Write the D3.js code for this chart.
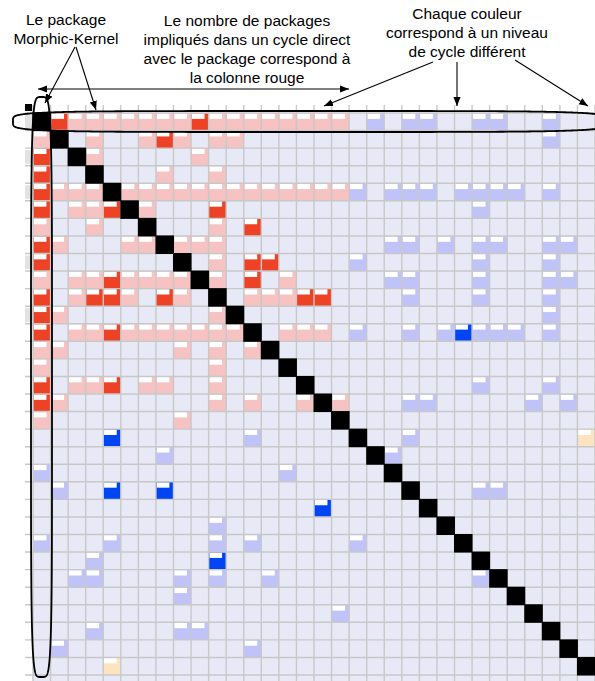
<!DOCTYPE html>
<html>
<head>
<meta charset="utf-8">
<script src="https://cdn.jsdelivr.net/npm/d3@7"></script>
<style>
  body { margin: 0; background: #fff; }
  text { font-family: "Liberation Sans", Arial, sans-serif; font-size: 15.5px; fill: #000; }
</style>
</head>
<body>
<svg id="dsm" width="595" height="681"></svg>
<script>
// matrix of 32 packages, Morphic-Kernel is package 0
var packageIndex = d3.range(32)

// each entry: [row, [columns]]
var strongRed = [[0,[1,9]],[1,[7]],[2,[0]],[3,[0]],[4,[0]],[5,[0,4,10]],[6,[12]],[7,[0]],
  [8,[0,12,13]],[9,[4,12]],[10,[0,3,4,7,15,16]],[11,[0]],[12,[0,4]],[15,[0,4]],[16,[0]]]

var lightRed = [[0,[2,3,4,5,6,7,8,10,11,12,13,14,15,16,17]],[1,[0,3,6,8,10,11]],[2,[3,9]],[3,[7,10]],
  [4,[1,2,3,5,6,7,8,9,10,11,12,13,14,15,16,17]],[5,[2,3,6]],[6,[0,3,10]],[7,[1,5,6,8,9,10]],[8,[10]],
  [9,[0,2,3,5,6,7,8,10,14]],[10,[2,5,8,12,13,14]],[11,[1,10]],[12,[2,3,5,6,7,8,9,10,11,14,15,16]],
  [13,[0,1,8,10,12]],[14,[0,10]],[15,[2,3,6,7,10]],[16,[1,10,12,15,17]],[17,[0,8]]]

var lightBlue = [[0,[19,21,22,25,26,29]],[1,[29]],[4,[18,20,21,22,24,25,26,27,29]],[5,[25]],
  [7,[20,21,23,25,26,29,30]],[8,[18,25,29]],[9,[20,21,25,29,30]],[10,[21,25,29]],[11,[29]],
  [12,[18,21,23,25,26,27,29]],[15,[25,29]],[16,[21,22,28,30]],[18,[12,21]],[19,[7,20]],[20,[0,14]],
  [21,[1,25,26]],[23,[10]],[24,[0,4,10,12,18]],[25,[3]],[26,[2,3,8,10,13,25]],[27,[8]],[28,[17]],
  [29,[3,8,9]],[30,[1,12]]]

var strongBlue = [[12,[24]],[18,[4]],[21,[4,7]],[22,[16]],[25,[10]]]

var peach = [[18,[31]],[31,[4]]]

// rows with a grey label stub on the left
var labelledRows = [0, 2, 4, 8, 11]

var kernelLabel = ["Le package", "Morphic-Kernel"]
var cycleLabel = ["Le nombre de packages", "impliqués dans un cycle direct", "avec le package correspond à", "la colonne rouge"]
var colourLabel = ["Chaque couleur", "correspond à un niveau", "de cycle différent"]

var svg = d3.select("#dsm")

var x = d3.scaleBand().domain(packageIndex).range([33, 595])
var y = d3.scaleBand().domain(packageIndex).range([113, 675])
var cw = x.bandwidth()

function flatten(list, colour) {
    var out = []
    list.forEach(function(d) {
        d[1].forEach(function(c) { out.push({row: d[0], col: c, colour: colour}) })
    })
    return out
}

var cells = [].concat(
    flatten(lightRed, "#f6c2c2"),
    flatten(strongRed, "#ee4226"),
    flatten(lightBlue, "#c0c3f8"),
    flatten(strongBlue, "#0045f3"),
    flatten(peach, "#fde3bf"))

// background of the matrix
svg.append("rect")
    .attr("x", x.range()[0]).attr("y", y.range()[0])
    .attr("width", x.range()[1] - x.range()[0] + 10)
    .attr("height", y.range()[1] - y.range()[0] + 10)
    .attr("fill", "#e8e9f6")

// grey label stubs on the left
svg.selectAll("rect.stub").data(labelledRows).join("rect")
    .attr("class", "stub")
    .attr("x", 25).attr("y", function(d){ return y(d) + 2 })
    .attr("width", 8).attr("height", cw - 4)
    .attr("fill", "#e2e2e2")

// coloured cells with their white corner
var g = svg.append("g")
g.selectAll("rect.cell").data(cells).join("rect")
    .attr("class", "cell")
    .attr("x", function(d){ return x(d.col) })
    .attr("y", function(d){ return y(d.row) })
    .attr("width", cw).attr("height", cw)
    .attr("fill", function(d){ return d.colour })
g.selectAll("rect.corner").data(cells).join("rect")
    .attr("class", "corner")
    .attr("x", function(d){ return x(d.col) + 0.8 })
    .attr("y", function(d){ return y(d.row) + 0.6 })
    .attr("width", cw * 0.72).attr("height", cw * 0.3)
    .attr("fill", "#fff")

// grid lines, slightly past the top and left edges like tick marks
var bounds = d3.range(33)
svg.selectAll("line.v").data(bounds).join("line")
    .attr("class", "v")
    .attr("x1", function(d){ return x.range()[0] + d * cw }).attr("x2", function(d){ return x.range()[0] + d * cw })
    .attr("y1", 105).attr("y2", 690)
    .attr("stroke", "#c8c8c8").attr("stroke-width", 1.4)
svg.selectAll("line.h").data(bounds).join("line")
    .attr("class", "h")
    .attr("y1", function(d){ return y.range()[0] + d * cw }).attr("y2", function(d){ return y.range()[0] + d * cw })
    .attr("x1", 25).attr("x2", 600)
    .attr("stroke", "#c8c8c8").attr("stroke-width", 1.4)

// diagonal
svg.selectAll("rect.diag").data(packageIndex).join("rect")
    .attr("class", "diag")
    .attr("x", function(d){ return x(d) - 0.5 })
    .attr("y", function(d){ return y(d) - 0.5 })
    .attr("width", cw + 1).attr("height", cw + 1)
    .attr("fill", "#000")

// little black header mark
svg.append("rect").attr("x", 25).attr("y", 104).attr("width", 7).attr("height", 7).attr("fill", "#000")

// ellipses round the first row and the first column
function superEllipse(cx, cy, rx, ry, n) {
    var pts = d3.range(0, 2 * Math.PI, Math.PI / 180).map(function(t) {
        var c = Math.cos(t), s = Math.sin(t)
        return [cx + rx * Math.sign(c) * Math.pow(Math.abs(c), 2 / n),
                cy + ry * Math.sign(s) * Math.pow(Math.abs(s), 2 / n)]
    })
    return d3.line().curve(d3.curveLinearClosed)(pts)
}
svg.append("path").attr("d", superEllipse(310, 121.5, 297, 10.5, 5))
    .attr("fill", "none").attr("stroke", "#000").attr("stroke-width", 1.8)
svg.append("path").attr("d", superEllipse(41.5, 387, 10.5, 290, 5))
    .attr("fill", "none").attr("stroke", "#000").attr("stroke-width", 1.8)

// arrows
svg.append("defs").append("marker")
    .attr("id", "head").attr("viewBox", "0 0 10 10")
    .attr("refX", 10).attr("refY", 5)
    .attr("markerWidth", 9).attr("markerHeight", 9)
    .attr("markerUnits", "userSpaceOnUse")
    .attr("orient", "auto-start-reverse")
    .append("path").attr("d", "M0,1 L10,5 L0,9 Z").attr("fill", "#000")

var arrows = [
    {x1: 75, y1: 47, x2: 45, y2: 103, both: false},
    {x1: 76, y1: 47, x2: 96, y2: 110, both: false},
    {x1: 38, y1: 89, x2: 349, y2: 89, both: true},
    {x1: 433, y1: 62, x2: 324, y2: 106, both: false},
    {x1: 457, y1: 62, x2: 457, y2: 106, both: false},
    {x1: 515, y1: 60, x2: 588, y2: 106, both: false}
]
svg.selectAll("line.arrow").data(arrows).join("line")
    .attr("class", "arrow")
    .attr("x1", function(d){ return d.x1 }).attr("y1", function(d){ return d.y1 })
    .attr("x2", function(d){ return d.x2 }).attr("y2", function(d){ return d.y2 })
    .attr("stroke", "#000").attr("stroke-width", 1.1)
    .attr("marker-end", "url(#head)")
    .attr("marker-start", function(d){ return d.both ? "url(#head)" : null })

// annotation text
function block(lines, cx, top) {
    svg.append("text").attr("text-anchor", "middle")
        .selectAll("tspan").data(lines).join("tspan")
        .attr("x", cx)
        .attr("y", function(d, i){ return top + i * 19 })
        .text(function(d){ return d })
}
block(kernelLabel, 66, 25)
block(cycleLabel, 247, 26)
block(colourLabel, 467, 19)
</script>
</body>
</html>
